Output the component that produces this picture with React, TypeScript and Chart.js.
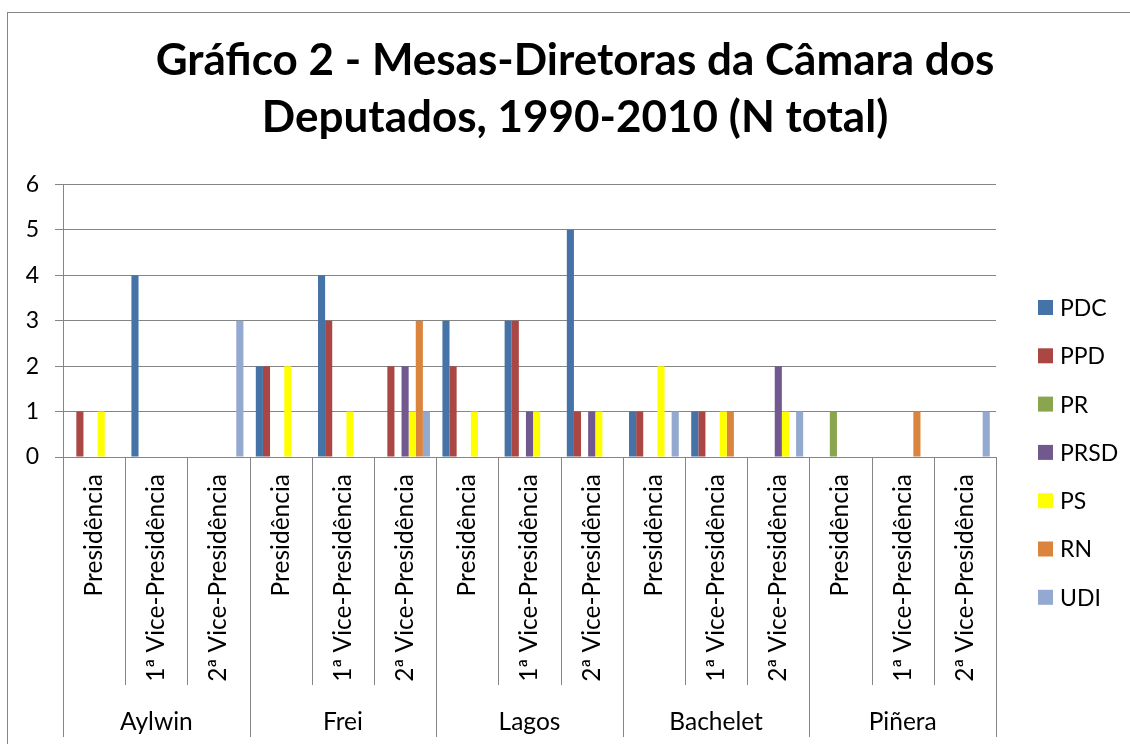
import React, { useEffect, useRef } from 'react';
import { Chart, registerables } from 'chart.js';

Chart.register(...registerables);

const FONT_FAMILY = 'Lato, "Open Sans", "DejaVu Sans", sans-serif';
const LINE_COLOR = '#858585';

const titleLines = ['Gráfico 2 - Mesas-Diretoras da Câmara dos', 'Deputados, 1990-2010 (N total)'];
const governments = ['Aylwin', 'Frei', 'Lagos', 'Bachelet', 'Piñera'];
const positions = ['Presidência', '1ª Vice-Presidência', '2ª Vice-Presidência'];
const categories = governments.flatMap(() => positions);
const yMin = 0;
const yMax = 6;
const yStep = 1;

const PDC = [0, 4, 0, 2, 4, 0, 3, 3, 5, 1, 1, 0, 0, 0, 0];
const PPD = [1, 0, 0, 2, 3, 2, 2, 3, 1, 1, 1, 0, 0, 0, 0];
const PR = [0, 0, 0, 0, 0, 0, 0, 0, 0, 0, 0, 0, 1, 0, 0];
const PRSD = [0, 0, 0, 0, 0, 2, 0, 1, 1, 0, 0, 2, 0, 0, 0];
const PS = [1, 0, 0, 2, 1, 1, 1, 1, 1, 2, 1, 1, 0, 0, 0];
const RN = [0, 0, 0, 0, 0, 3, 0, 0, 0, 0, 1, 0, 0, 1, 0];
const UDI = [0, 0, 3, 0, 0, 1, 0, 0, 0, 1, 0, 1, 0, 0, 1];

const seriesLabels = ['PDC', 'PPD', 'PR', 'PRSD', 'PS', 'RN', 'UDI'];
const seriesValues = [PDC, PPD, PR, PRSD, PS, RN, UDI];
const seriesColors = ['#4572A7', '#AA4643', '#89A54E', '#71588F', '#FFFF00', '#DB843D', '#93A9CF'];

const LABEL_SIZE = 24.5;
const LEGEND_SIZE = 23;
const TICK_SIZE = 23;
const LEGEND_FIRST_Y = 307.5;
const LEGEND_STEP = 48.3;

const decorPlugin = {
  id: 'decor',
  beforeDraw(chart: any) {
    const ctx = chart.ctx;
    ctx.save();
    ctx.strokeStyle = LINE_COLOR;
    ctx.lineWidth = 1;
    ctx.strokeRect(7.5, 12.5, chart.width + 40, chart.height + 40);
    ctx.restore();
  },
  afterDraw(chart: any) {
    const ctx = chart.ctx;
    const x = chart.scales.x;
    const x2 = chart.scales.x2;
    const n = categories.length;
    ctx.save();
    ctx.strokeStyle = LINE_COLOR;
    ctx.lineWidth = 1;
    for (let i = 0; i <= n; i++) {
      const px = Math.round(x.left + (i * (x.right - x.left)) / n) + 0.5;
      const bottom = i % positions.length === 0 ? x2.bottom - 7 : x2.top;
      ctx.beginPath();
      ctx.moveTo(px, x.top);
      ctx.lineTo(px, bottom);
      ctx.stroke();
    }
    // legend
    const side = chart.scales.legendSpace;
    ctx.font = `${LEGEND_SIZE}px ${FONT_FAMILY}`;
    ctx.textBaseline = 'middle';
    ctx.textAlign = 'left';
    chart.data.datasets.forEach((ds: any, i: number) => {
      const cy = LEGEND_FIRST_Y + i * LEGEND_STEP;
      ctx.fillStyle = ds.backgroundColor;
      ctx.fillRect(side.left + 42, cy - 7.5, 15, 15);
      ctx.fillStyle = '#000';
      ctx.fillText(ds.label, side.left + 64, cy + 1);
    });
    ctx.restore();
  },
};

export default function App() {
  const canvasRef = useRef<HTMLCanvasElement | null>(null);

  useEffect(() => {
    if (!canvasRef.current) return;
    const chart = new Chart(canvasRef.current, {
      type: 'bar',
      data: {
        labels: categories,
        datasets: seriesLabels.map((label, i) => ({
          label,
          data: seriesValues[i],
          backgroundColor: seriesColors[i],
          borderWidth: 0,
          categoryPercentage: 0.8,
          barPercentage: 1.0,
        })),
      },
      options: {
        responsive: false,
        animation: false,
        layout: { padding: { left: 20, right: 0, top: 0, bottom: 0 } },
        plugins: {
          legend: { display: false },
          tooltip: { enabled: false },
          title: {
            display: true,
            text: titleLines,
            color: '#000',
            font: { family: FONT_FAMILY, size: 44, weight: 'bold', lineHeight: 1.3 },
            padding: { top: 32.5, bottom: 37.5 },
          },
        },
        scales: {
          x: {
            type: 'category',
            position: 'bottom',
            offset: true,
            grid: { display: false },
            border: { display: true, color: LINE_COLOR, width: 1 },
            ticks: {
              autoSkip: false,
              minRotation: 90,
              maxRotation: 90,
              color: '#000',
              padding: 9,
              font: { family: FONT_FAMILY, size: LABEL_SIZE },
            },
            afterFit: (s: any) => {
              s.height = 228;
            },
          },
          x2: {
            type: 'category',
            position: 'bottom',
            labels: governments,
            offset: true,
            grid: { display: false },
            border: { display: false },
            ticks: {
              color: '#000',
              padding: 14,
              font: { family: FONT_FAMILY, size: LABEL_SIZE },
            },
            afterFit: (s: any) => {
              s.height = 59;
            },
          },
          y: {
            type: 'linear',
            position: 'left',
            min: yMin,
            max: yMax,
            grid: { color: LINE_COLOR, lineWidth: 1, tickLength: 8, drawTicks: true },
            border: { display: true, color: LINE_COLOR, width: 1 },
            ticks: {
              stepSize: yStep,
              color: '#000',
              padding: 16,
              font: { family: FONT_FAMILY, size: TICK_SIZE },
            },
            afterFit: (s: any) => {
              s.width = 43;
            },
          },
          legendSpace: {
            type: 'linear',
            position: 'right',
            display: true,
            grid: { display: false },
            border: { display: false },
            ticks: { display: false },
            afterFit: (s: any) => {
              s.width = 134;
            },
          },
        },
      },
      plugins: [decorPlugin],
    } as any);
    return () => chart.destroy();
  }, []);

  return (
    <div style={{ position: 'fixed', left: 0, top: 0, width: 1130, height: 744, background: '#fff' }}>
      <canvas ref={canvasRef} width={1130} height={744} style={{ display: 'block' }} />
    </div>
  );
}
